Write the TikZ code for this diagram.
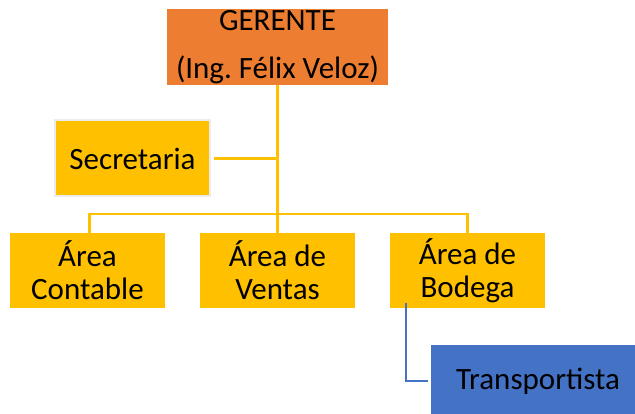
\documentclass[tikz,border=0pt]{standalone}
\usepackage{fontspec}
\setmainfont{Carlito}
\usetikzlibrary{positioning}

\definecolor{naranja}{HTML}{ED7D31}
\definecolor{oro}{HTML}{FFC000}
\definecolor{azul}{HTML}{4472C4}

\begin{document}
\begin{tikzpicture}[x=1pt,y=-1pt,
    caja/.style={fill=oro,minimum width=155pt,minimum height=75pt,
      align=center,inner sep=0pt,font=\fontsize{31}{33}\selectfont},
    linea/.style={draw=oro,line width=2.5pt}]
    \useasboundingbox (0,0) rectangle (635,414);

    \node[caja,fill=naranja,minimum width=221pt,minimum height=76pt,
      font=\fontsize{31}{48}\selectfont]
    (gerente) at (277.5,47) {GERENTE\\(Ing.\ Félix Veloz)};
    \node[caja,draw=gray!15,line width=2pt,minimum width=155pt,minimum height=76pt]
    (secretaria) at (132.5,158.5) {Secretaria};

    \node[caja] (contable) at (87.5,270.5) {Área\\Contable};
    \node[caja] (ventas) at (277.5,270.5) {Área de\\Ventas};
    \node[caja] (bodega) at (467.5,270.5) {Área de\\Bodega};

    \node[caja,fill=azul,minimum width=214pt,minimum height=72pt]
    (transporte) at (538,381) {Transportista};

    \coordinate (bus) at (277.5,214);
    \coordinate (busizq) at (89.5,214);
    \draw[linea] (gerente.south) -- ([yshift=-2pt]ventas.north);
    \draw[linea] ([xshift=3pt]secretaria.east) -- (secretaria.east -| gerente.south);
    \draw[linea] ([yshift=-2pt]busizq |- contable.north) -- (busizq) -- (bodega.north |- bus) -- ([yshift=-2pt]bodega.north);

    \draw[draw=azul,line width=2.5pt]
    ([xshift=16pt,yshift=5pt]bodega.south west) |- ([xshift=-3pt]transporte.west);
\end{tikzpicture}
\end{document}
